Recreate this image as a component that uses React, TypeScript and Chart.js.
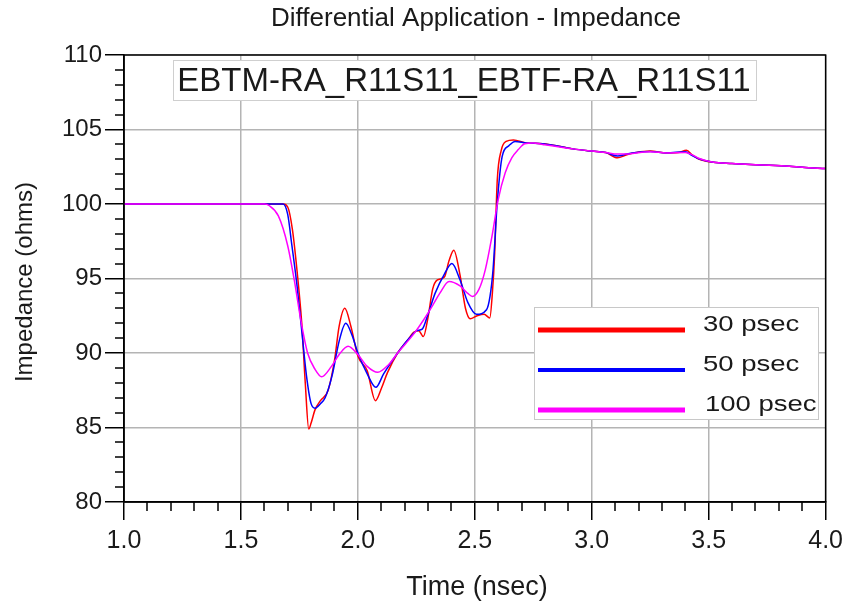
import React, { useEffect, useRef } from 'react';
import { Chart, registerables } from 'chart.js';

Chart.register(...registerables);

const TITLE = 'Differential Application - Impedance';
const NOTE = 'EBTM-RA_R11S11_EBTF-RA_R11S11';
const X_LABEL = 'Time (nsec)';
const Y_LABEL = 'Impedance (ohms)';
const SERIES_NAMES = ['30 psec', '50 psec', '100 psec'];
const SERIES_COLORS = ['#ff0000', '#0000ff', '#ff00ff'];

const X_MIN = 1.0;
const X_MAX = 4.0;
const Y_MIN = 80;
const Y_MAX = 110;

// 30 psec
const t30 = [1.0, 1.68, 1.70, 1.72, 1.74, 1.76, 1.775, 1.79, 1.80, 1.817, 1.84, 1.873, 1.90, 1.92, 1.944, 1.97, 2.0, 2.04, 2.075, 2.10, 2.127, 2.17, 2.21, 2.24, 2.26, 2.28, 2.30, 2.32, 2.34, 2.37, 2.39, 2.41, 2.437, 2.46, 2.48, 2.51, 2.54, 2.564, 2.575, 2.585, 2.596, 2.613, 2.634, 2.665, 2.72, 2.79, 2.92, 3.0, 3.06, 3.11, 3.15, 3.19, 3.25, 3.32, 3.37, 3.405, 3.43, 3.46, 3.52, 3.6, 3.7, 3.845, 3.9, 4.0];
const z30 = [100, 100, 99.8, 98.3, 95.5, 92.0, 88.0, 84.9, 85.3, 86.2, 86.8, 87.5, 89.5, 91.8, 93.0, 91.8, 89.8, 88.8, 86.8, 87.6, 88.7, 90.0, 90.8, 91.4, 91.5, 91.1, 92.4, 94.3, 94.9, 95.1, 96.2, 96.9, 95.2, 93.0, 92.3, 92.5, 92.6, 92.35, 94.0, 96.7, 101.6, 103.6, 104.2, 104.3, 104.1, 104.05, 103.7, 103.55, 103.45, 103.1, 103.3, 103.45, 103.55, 103.43, 103.45, 103.6, 103.3, 103.0, 102.8, 102.72, 102.63, 102.54, 102.46, 102.38];

// 50 psec
const t50 = [1.0, 1.68, 1.70, 1.718, 1.74, 1.76, 1.78, 1.80, 1.817, 1.84, 1.86, 1.89, 1.92, 1.948, 1.975, 2.0, 2.04, 2.077, 2.11, 2.17, 2.22, 2.253, 2.275, 2.30, 2.33, 2.37, 2.402, 2.437, 2.47, 2.507, 2.55, 2.565, 2.578, 2.596, 2.617, 2.645, 2.672, 2.72, 2.79, 2.92, 3.0, 3.06, 3.11, 3.15, 3.19, 3.25, 3.32, 3.40, 3.43, 3.46, 3.52, 3.6, 3.7, 3.845, 3.9, 4.0];
const z50 = [100, 100, 99.3, 97.2, 94.5, 91.5, 88.5, 86.6, 86.3, 86.6, 87.0, 88.5, 90.8, 92.0, 91.2, 90.0, 88.6, 87.7, 88.6, 90.0, 91.0, 91.5, 91.6, 92.6, 94.0, 95.3, 96.0, 94.9, 93.4, 92.6, 92.9, 93.8, 95.6, 100.1, 103.2, 103.9, 104.2, 104.1, 104.05, 103.7, 103.55, 103.45, 103.22, 103.35, 103.45, 103.52, 103.43, 103.5, 103.25, 103.02, 102.8, 102.72, 102.63, 102.54, 102.46, 102.38];

// 100 psec
const t100 = [1.0, 1.60, 1.62, 1.66, 1.70, 1.728, 1.756, 1.785, 1.817, 1.845, 1.887, 1.92, 1.958, 2.0, 2.04, 2.085, 2.13, 2.17, 2.24, 2.28, 2.32, 2.35, 2.39, 2.437, 2.47, 2.49, 2.517, 2.545, 2.573, 2.60, 2.63, 2.658, 2.686, 2.713, 2.75, 2.79, 2.92, 3.0, 3.06, 3.11, 3.15, 3.19, 3.25, 3.32, 3.40, 3.43, 3.46, 3.52, 3.6, 3.7, 3.845, 3.9, 4.0];
const z100 = [100, 100, 99.9, 99.2, 97.2, 94.9, 92.2, 90.0, 88.9, 88.4, 89.1, 89.9, 90.45, 89.9, 89.1, 88.7, 89.2, 90.0, 91.3, 92.2, 93.2, 94.0, 94.8, 94.5, 94.0, 93.8, 94.25, 95.6, 97.8, 100.3, 102.1, 103.1, 103.65, 104.05, 104.1, 104.0, 103.7, 103.55, 103.45, 103.35, 103.35, 103.43, 103.5, 103.43, 103.45, 103.3, 103.05, 102.8, 102.72, 102.63, 102.54, 102.46, 102.38];

const SERIES_T = [t30, t50, t100];
const SERIES_Z = [z30, z50, z100];

const FONT = '"Liberation Sans", Arial, sans-serif';
const TEXT = '#1a1a1a';

const decoPlugin = {
  id: 'deco',
  afterDraw(chart: any) {
    const { ctx, chartArea: a, scales } = chart;
    const x = scales.x;
    const y = scales.y;
    ctx.save();

    // minor ticks
    ctx.strokeStyle = '#000';
    ctx.lineWidth = 1.5;
    ctx.beginPath();
    for (let i = 0; i <= 30; i++) {
      if (i % 5 === 0) continue;
      const px = Math.round(x.getPixelForValue(X_MIN + i * 0.1));
      ctx.moveTo(px, a.bottom);
      ctx.lineTo(px, a.bottom + 9);
    }
    for (let v = Y_MIN + 1; v < Y_MAX; v++) {
      if (v % 5 === 0) continue;
      const py = Math.round(y.getPixelForValue(v));
      ctx.moveTo(a.left - 9, py);
      ctx.lineTo(a.left, py);
    }
    ctx.stroke();

    // frame
    ctx.strokeRect(a.left, a.top, a.right - a.left, a.bottom - a.top);

    // note box
    ctx.fillStyle = '#fff';
    ctx.fillRect(173, 60, 583, 40);
    ctx.strokeStyle = '#cfcfcf';
    ctx.lineWidth = 1;
    ctx.strokeRect(173.5, 60.5, 583, 40);
    ctx.fillStyle = TEXT;
    ctx.font = `33px ${FONT}`;
    ctx.textAlign = 'center';
    ctx.textBaseline = 'middle';
    ctx.fillText(NOTE, 464, 82);

    // legend
    ctx.fillStyle = '#fff';
    ctx.fillRect(534, 307, 284, 112);
    ctx.strokeStyle = '#c8c8c8';
    ctx.lineWidth = 1;
    ctx.strokeRect(534.5, 307.5, 284, 112);
    const rows = [330, 370, 410];
    SERIES_NAMES.forEach((name, i) => {
      ctx.strokeStyle = SERIES_COLORS[i];
      ctx.lineWidth = i === 1 ? 4 : 5;
      ctx.beginPath();
      ctx.moveTo(538, rows[i]);
      ctx.lineTo(685, rows[i]);
      ctx.stroke();
      ctx.save();
      ctx.translate(i === 2 ? 705 : 703, rows[i] - 5);
      ctx.scale(1.25, 1);
      ctx.fillStyle = TEXT;
      ctx.font = `22px ${FONT}`;
      ctx.textAlign = 'left';
      ctx.textBaseline = 'middle';
      ctx.fillText(name, 0, 0);
      ctx.restore();
    });

    // title
    ctx.fillStyle = TEXT;
    ctx.textAlign = 'center';
    ctx.textBaseline = 'middle';
    ctx.font = `26px ${FONT}`;
    ctx.fillText(TITLE, 476, 19);

    // x label
    ctx.font = `27px ${FONT}`;
    ctx.fillText(X_LABEL, 477, 588);

    // y label
    ctx.save();
    ctx.translate(25, 282);
    ctx.rotate(-Math.PI / 2);
    ctx.font = `24px ${FONT}`;
    ctx.fillText(Y_LABEL, 0, 0);
    ctx.restore();

    ctx.restore();
  },
};

export default function App() {
  const ref = useRef<HTMLCanvasElement | null>(null);

  useEffect(() => {
    if (!ref.current) return;
    const datasets = SERIES_NAMES.map((name, i) => ({
      label: name,
      data: SERIES_T[i].map((t, k) => ({ x: t, y: SERIES_Z[i][k] })),
      borderColor: SERIES_COLORS[i],
      backgroundColor: SERIES_COLORS[i],
      borderWidth: 1.5,
      pointRadius: 0,
      cubicInterpolationMode: 'monotone' as const,
      fill: false,
      order: 3 - i,
    }));
    const chart = new Chart(ref.current, {
      type: 'line',
      data: { datasets },
      options: {
        animation: false,
        responsive: false,
        maintainAspectRatio: false,
        layout: { padding: { top: 55, right: 19, left: 0, bottom: 0 } },
        plugins: {
          legend: { display: false },
          title: { display: false },
          tooltip: { enabled: false },
        },
        scales: {
          x: {
            type: 'linear',
            min: X_MIN,
            max: X_MAX,
            afterFit: (s: any) => { s.height = 103; },
            ticks: {
              stepSize: 0.5,
              autoSkip: false,
              maxRotation: 0,
              padding: 6,
              color: TEXT,
              font: { family: FONT, size: 25 },
              callback: (v: any) => Number(v).toFixed(1),
            },
            grid: {
              color: '#b4b4b4',
              lineWidth: 1.5,
              tickLength: 18,
              tickColor: '#000',
              tickWidth: 1.5,
            },
            border: { display: true, color: '#000', width: 1.5 },
          },
          y: {
            type: 'linear',
            min: Y_MIN,
            max: Y_MAX,
            afterFit: (s: any) => { s.width = 124; },
            ticks: {
              stepSize: 5,
              padding: 3,
              color: TEXT,
              font: { family: FONT, size: 24 },
            },
            grid: {
              color: '#b4b4b4',
              lineWidth: 1.5,
              tickLength: 19,
              tickColor: '#000',
              tickWidth: 1.5,
            },
            border: { display: true, color: '#000', width: 1.5 },
          },
        },
      },
      plugins: [decoPlugin],
    });
    return () => chart.destroy();
  }, []);

  return (
    <div style={{ position: 'absolute', left: 0, top: 0, width: 849, height: 605, background: '#fff' }}>
      <canvas ref={ref} width={849} height={605} style={{ width: 849, height: 605, display: 'block' }} />
    </div>
  );
}
